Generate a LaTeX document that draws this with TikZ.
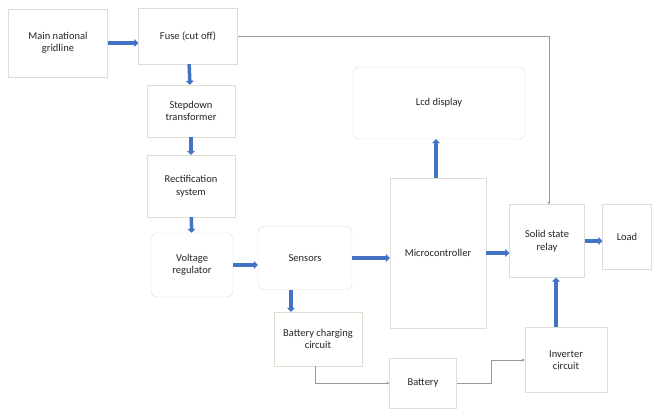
\documentclass[tikz,border=0pt]{standalone}
\usepackage{fontspec}
\setmainfont{Carlito}
\usepackage{tikz}
\usetikzlibrary{arrows.meta}
\definecolor{flowblue}{RGB}{68,114,196}
\definecolor{boxline}{RGB}{222,222,210}

\begin{document}
\begin{tikzpicture}[x=1pt,y=-1pt,
		block/.style ={rectangle, draw=boxline, fill=white, text=black!85,
			align=center, font=\fontsize{10.5}{12.5}\selectfont, inner sep=2pt},
		rblock/.style ={block, rounded corners=6pt},
		flow/.style ={-{Triangle[length=4pt,width=8pt]}, line width=3.5pt, flowblue},
		feed/.style ={-{Stealth[length=3pt,width=3pt]}, thin, black!40}]
		\useasboundingbox (0,0) rectangle (653,411);
		% supply chain
		\node[block, minimum width=99, minimum height=68] (grid) at (58,43) {Main national\\gridline};
		\node[block, minimum width=99, minimum height=56] (fuse) at (188,36) {Fuse (cut off)};
		\node[block, minimum width=88, minimum height=52] (step) at (191,111) {Stepdown\\transformer};
		\node[block, minimum width=88, minimum height=62] (rect) at (191,186) {Rectification\\system};
		\node[rblock, minimum width=82, minimum height=64] (volt) at (192,265) {Voltage\\regulator};
		% control part
		\node[rblock, minimum width=94, minimum height=63] (sens) at (305,258) {Sensors};
		\node[block, minimum width=88, minimum height=54] (charge) at (318,339) {Battery charging\\circuit};
		\node[block, minimum width=67, minimum height=50] (batt) at (423,383) {Battery};
		\node[block, minimum width=96, minimum height=150] (micro) at (438,253) {Microcontroller};
		\node[rblock, minimum width=172, minimum height=72] (lcd) at (439,103) {Lcd display};
		\node[block, minimum width=75, minimum height=73] (ssr) at (547,241) {Solid state\\relay};
		\node[block, minimum width=49, minimum height=65] (load) at (627,237) {Load};
		\node[block, minimum width=82, minimum height=65] (inv) at (566,360) {Inverter\\circuit};
		% thick arrows
		\draw[flow] (grid) -- (grid -| fuse.west);
		\draw[flow] (fuse) -- (step);
		\draw[flow] (step) -- (rect);
		\draw[flow] (rect) -- (volt);
		\draw[flow] (volt) -- (volt -| sens.west);
		\draw[flow] (sens) -- (sens -| micro.west);
		\draw[flow] ([xshift=-14pt]sens.south) -- ([xshift=-14pt]sens.south |- charge.north);
		\draw[flow] ([xshift=-2pt]micro.north) -- ([xshift=-2pt]micro.north |- lcd.south);
		\draw[flow] (micro) -- (micro -| ssr.west);
		\draw[flow] (ssr) -- (ssr -| load.west);
		\draw[flow] ([xshift=-10pt]inv.north) -- ([xshift=-10pt]inv.north |- ssr.south);
		% thin lines
		\draw[feed] (fuse.east) -| ([xshift=2pt]ssr.north);
		\draw[feed] ([xshift=-3pt]charge.south) |- (batt.west);
		\draw[feed] (batt.east) -- ++(34,0) |- (inv.west);
\end{tikzpicture}
\end{document}
